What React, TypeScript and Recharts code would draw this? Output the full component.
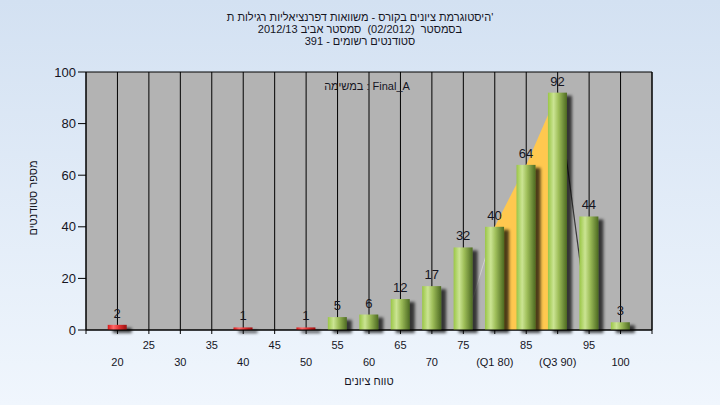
import React from 'react';
import { ComposedChart, Bar, Area, XAxis, YAxis, CartesianGrid, LabelList } from 'recharts';

const grades = [20, 25, 30, 35, 40, 45, 50, 55, 60, 65, 70, 75, 80, 85, 90, 95, 100];
const students = [2, 0, 0, 0, 1, 0, 1, 5, 6, 12, 17, 32, 40, 64, 92, 44, 3];
const passingGrade = 55;
const quartileGrades = [80, 90];
const quartileTickLabels = ['(Q1 80)', '(Q3 90)'];
const xTicks = [15, 20, 25, 30, 35, 40, 45, 50, 55, 60, 65, 70, 75, 80, 85, 90, 95, 100, 105];
const yTicks = [0, 20, 40, 60, 80, 100];
const titleLines = [
  "היסטוגרמת ציונים בקורס - משוואות דפרנציאליות רגילות ת'",
  'בסמסטר  (02/2012)  סמסטר אביב 2012/13',
  'סטודנטים רשומים - 391',
];
const assignmentLabel = 'במשימה : Final_A';
const yTitle = 'מספר סטודנטים';
const xTitle = 'טווח ציונים';

const FONT = "'Liberation Sans', Arial, sans-serif";
const TEXT = '#15151f';

const [q1, q3] = quartileGrades;
const q1Idx = grades.indexOf(q1);
const q3Idx = grades.indexOf(q3);
const data = grades.map((g, i) => ({
  grade: g,
  count: students[i],
  iqr: i >= q1Idx && i <= q3Idx ? students[i] : null,
  edgeLow: i === q1Idx - 1 ? 0 : i === q1Idx ? students[i] : null,
  edgeHigh: i === q3Idx ? students[i] : i === q3Idx + 1 ? 0 : null,
}));

const BarShape = (p: any) => {
  const { x, y, width, height } = p;
  if (!height || height <= 0) return null;
  const grade = p.payload ? p.payload.grade : p.grade;
  const fail = grade < passingGrade;
  return (
    <rect x={x} y={y} width={width} height={height}
      fill={fail ? 'url(#gRed)' : 'url(#gGreen)'} filter="url(#barShadow)" />
  );
};

const XTick = (p: any) => {
  const v = p.payload.value;
  if (v < grades[0] || v > grades[grades.length - 1]) return null;
  const qi = quartileGrades.indexOf(v);
  const label = qi >= 0 ? quartileTickLabels[qi] : String(v);
  const upper = v % 10 !== 0;
  return (
    <text x={p.x} y={p.y + (upper ? 13 : 29.5)} textAnchor="middle" fontSize={11}
      fill={TEXT} fontFamily={FONT}>{label}</text>
  );
};

export default function App() {
  return (
    <div style={{
      position: 'absolute', left: 0, top: 0, width: 720, height: 405,
      background: 'linear-gradient(#d3e1f2, #f0f6fd)', fontFamily: FONT, color: TEXT,
    }}>
      <svg width={0} height={0} style={{ position: 'absolute' }}>
        <defs>
          <linearGradient id="gGreen" x1="0" y1="0" x2="1" y2="0">
            <stop offset="0" stopColor="#9ac646" />
            <stop offset="0.3" stopColor="#cbe493" />
            <stop offset="0.55" stopColor="#9fbf5a" />
            <stop offset="1" stopColor="#4d6a22" />
          </linearGradient>
          <linearGradient id="gRed" x1="0" y1="0" x2="1" y2="0">
            <stop offset="0" stopColor="#d81818" />
            <stop offset="0.3" stopColor="#ff6a6a" />
            <stop offset="0.6" stopColor="#e03030" />
            <stop offset="1" stopColor="#9a0c0c" />
          </linearGradient>
          <filter id="barShadow" filterUnits="userSpaceOnUse" x="0" y="0" width="720" height="405">
            <feDropShadow dx="5" dy="3" stdDeviation="1.6" floodColor="#000" floodOpacity="0.7" />
          </filter>
        </defs>
      </svg>
      <ComposedChart width={720} height={405} data={data}
        margin={{ top: 72, right: 0, bottom: 0, left: 0 }}>
        <CartesianGrid stroke="#000" strokeWidth={1} fill="#b3b3b3" fillOpacity={1} />
        <XAxis type="number" dataKey="grade" domain={[15, 105]} ticks={xTicks} interval={0}
          height={75} tickSize={4} stroke="#000" tick={<XTick />} />
        <YAxis yAxisId="left" domain={[0, 100]} ticks={yTicks} width={86} tickSize={8}
          stroke="#000" tick={{ fill: TEXT, fontSize: 13, fontFamily: FONT }} />
        <YAxis yAxisId="right" orientation="right" domain={[0, 100]} ticks={yTicks} width={68}
          tickSize={8} stroke="#000" tick={{ fill: TEXT, fontSize: 13, fontFamily: FONT }} />
        <Area yAxisId="left" dataKey="iqr" type="linear" fill="#ffc84f" fillOpacity={1}
          stroke="none" dot={false} activeDot={false} isAnimationActive={false} />
        <Area yAxisId="left" dataKey="edgeLow" type="linear" fill="none" fillOpacity={0}
          stroke="#cfcfcf" strokeWidth={1} dot={false} activeDot={false} isAnimationActive={false} />
        <Area yAxisId="left" dataKey="edgeHigh" type="linear" fill="none" fillOpacity={0}
          stroke="#3a3a3a" strokeWidth={1.2} dot={false} activeDot={false} isAnimationActive={false} />
        <Bar yAxisId="left" dataKey="count" barSize={19} shape={<BarShape />} isAnimationActive={false}>
          <LabelList dataKey="count" position="top" offset={7}
            formatter={(v: any) => (v ? v : '')}
            fill={TEXT} fontSize={13} fontFamily={FONT} />
        </Bar>
      </ComposedChart>
      <div style={{ position: 'absolute', left: 0, top: 11, width: 720, textAlign: 'center', fontSize: 11, lineHeight: '12px' }}>
        {titleLines.map((t, i) => <div key={i} style={{ whiteSpace: 'pre' }}>{t}</div>)}
      </div>
      <div style={{ position: 'absolute', left: 267, top: 79, width: 200, textAlign: 'center', fontSize: 11, lineHeight: '14px' }}>
        {assignmentLabel}
      </div>
      <div style={{ position: 'absolute', left: 269, top: 374, width: 200, textAlign: 'center', fontSize: 11, lineHeight: '14px' }}>
        {xTitle}
      </div>
      <div style={{
        position: 'absolute', left: 33 - 60, top: 198 - 7, width: 120, textAlign: 'center',
        fontSize: 11, lineHeight: '14px', transform: 'rotate(-90deg)',
      }}>
        {yTitle}
      </div>
    </div>
  );
}
